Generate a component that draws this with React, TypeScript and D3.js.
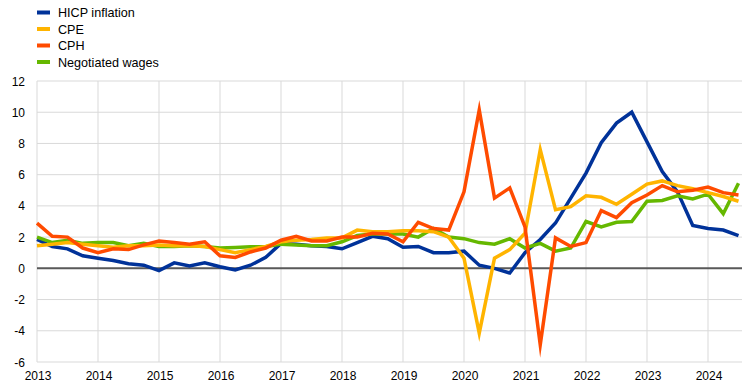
import React from "react";
import * as d3 from "d3";

const years = ["2013","2014","2015","2016","2017","2018","2019","2020","2021","2022","2023","2024"];
const yTicks = [-6,-4,-2,0,2,4,6,8,10,12];

const hicp = [
  1.85,1.4,1.25,0.8, 0.65,0.5,0.3,0.2, -0.15,0.35,0.15,0.35, 0.1,-0.1,0.2,0.7,
  1.6,1.55,1.45,1.4, 1.25,1.65,2.05,1.9, 1.35,1.4,1.0,1.0, 1.1,0.2,0.0,-0.3,
  1.0,1.85,2.9,4.5, 6.1,8.05,9.3,10.0, 8.1,6.2,4.9,2.75, 2.55,2.45,2.1,
];
const cpe = [
  1.45,1.55,1.65,1.55, 1.45,1.35,1.45,1.45, 1.5,1.45,1.45,1.4, 1.2,1.0,1.2,1.4,
  1.7,1.8,1.85,1.95, 1.95,2.45,2.35,2.35, 2.4,2.4,2.35,2.0, 0.65,-4.15,0.65,1.2,
  2.25,7.6,3.75,3.95, 4.65,4.55,4.1,4.75, 5.4,5.6,5.3,5.1, 4.85,4.6,4.3,
];
const cph = [
  2.9,2.05,2.0,1.3, 1.0,1.25,1.2,1.5, 1.75,1.65,1.55,1.7, 0.8,0.7,1.05,1.3,
  1.8,2.05,1.75,1.75, 2.0,2.0,2.25,2.2, 1.7,2.95,2.55,2.45, 4.9,10.15,4.5,5.15,
  2.65,-4.9,1.95,1.4, 1.65,3.7,3.25,4.2, 4.7,5.3,4.9,5.0, 5.2,4.85,4.7,
];
const wages = [
  2.0,1.65,1.8,1.6, 1.65,1.65,1.45,1.6, 1.4,1.4,1.45,1.4, 1.3,1.33,1.38,1.38,
  1.55,1.5,1.45,1.45, 1.7,2.1,2.2,2.2, 2.2,2.0,2.55,2.0, 1.9,1.65,1.55,1.9,
  1.3,1.6,1.1,1.3, 3.0,2.65,2.95,3.0, 4.3,4.35,4.65,4.45, 4.75,3.5,5.45,
];

const seriesNames = ["HICP inflation", "CPE", "CPH", "Negotiated wages"];
const seriesColors = ["#003299", "#FFB400", "#FF4B00", "#65B800"];
const seriesData = [hicp, cpe, cph, wages];
const drawOrder = [0, 3, 1, 2];

const W = 744, H = 389;
const left = 37, right = 742, top = 81, bottom = 362;
const font = "Arial, 'Liberation Sans', sans-serif";

export default function App() {
  const x = d3.scaleLinear().domain([0, 46]).range([left, 738.5]);
  const y = d3.scaleLinear().domain([-6, 12]).range([bottom, top]);
  const line = d3.line<number>().x((_, i) => x(i)).y((d) => y(d));

  return (
    <svg width={W} height={H} style={{ position: "absolute", left: 0, top: 0, background: "#fff" }}>
      {yTicks.map((t) => (
        <line key={"h" + t} x1={left} x2={right} y1={y(t)} y2={y(t)} stroke="#d9d9d9" strokeWidth={1} />
      ))}
      {years.map((yr, k) => (
        <line key={"v" + yr} x1={x(k * 4)} x2={x(k * 4)} y1={top} y2={bottom} stroke="#d9d9d9" strokeWidth={1} />
      ))}
      <line x1={left} x2={right} y1={y(0)} y2={y(0)} stroke="#595959" strokeWidth={2} />
      {yTicks.map((t) => (
        <text key={"yl" + t} x={25} y={y(t) + 4.5} textAnchor="end" fontFamily={font} fontSize={12} fill="#000">
          {t}
        </text>
      ))}
      {years.map((yr, k) => (
        <text key={"xl" + yr} x={x(k * 4) + 1} y={380} textAnchor="middle" fontFamily={font} fontSize={12} fill="#000">
          {yr}
        </text>
      ))}
      {drawOrder.map((s) => (
        <path key={"s" + s} d={line(seriesData[s]) || ""} fill="none" stroke={seriesColors[s]} strokeWidth={3.5} strokeLinejoin="miter" strokeMiterlimit={10} />
      ))}
      {seriesNames.map((n, i) => (
        <g key={"lg" + n}>
          <rect x={37} y={10.5 + i * 16.5} width={13} height={4} fill={seriesColors[i]} />
          <text x={58} y={17 + i * 16.5} fontFamily={font} fontSize={12.6} fill="#000">{n}</text>
        </g>
      ))}
    </svg>
  );
}
